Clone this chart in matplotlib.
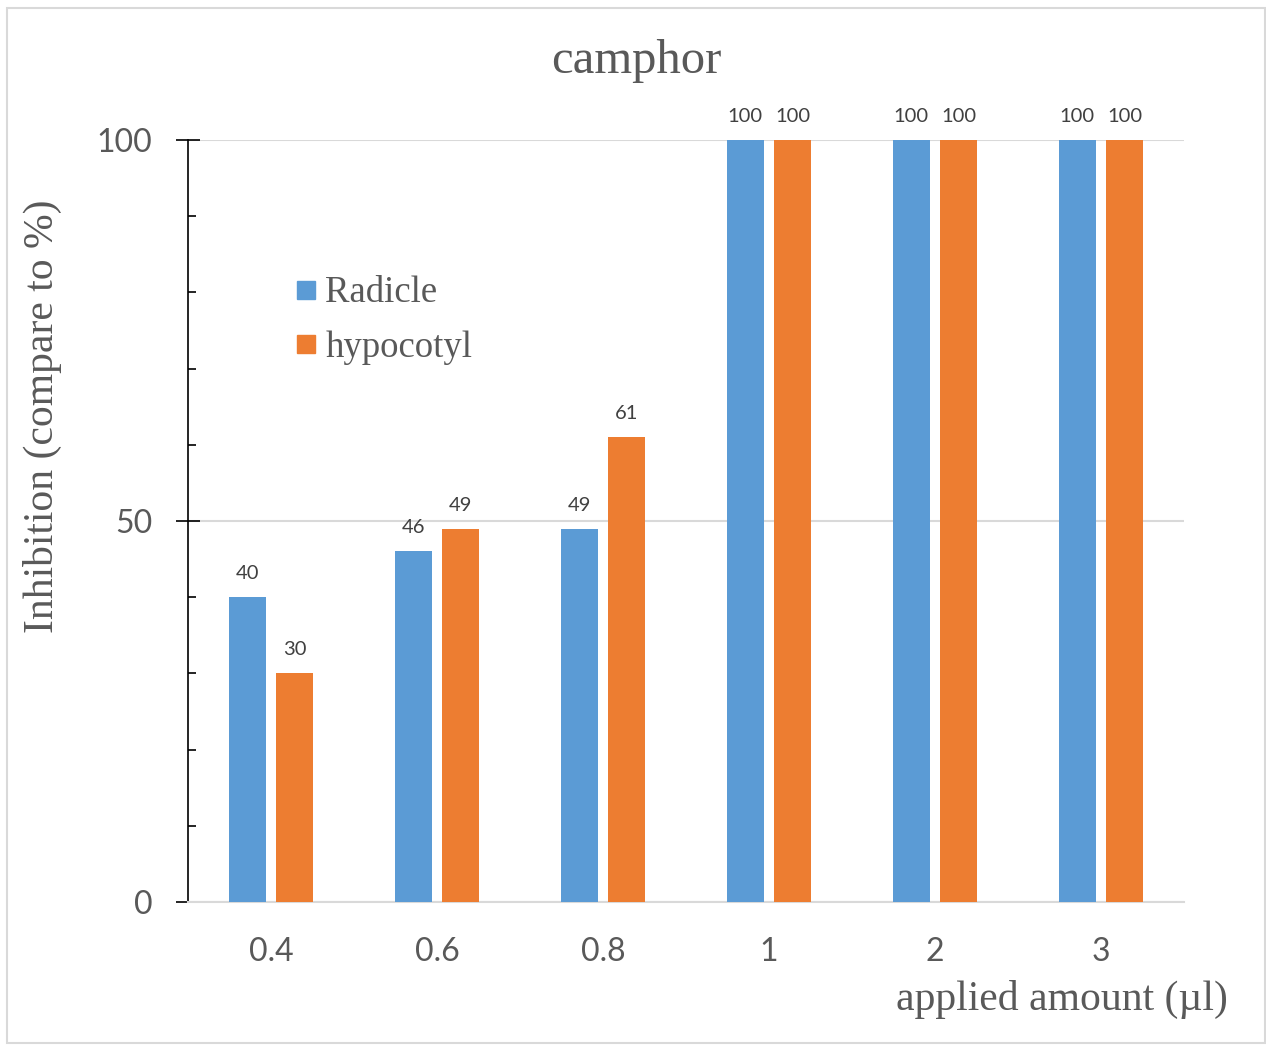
import numpy as np
import matplotlib
matplotlib.use('Agg')
import matplotlib.pyplot as plt
from matplotlib.lines import Line2D
from matplotlib.patches import Rectangle
from matplotlib.ticker import MultipleLocator

amounts = ['0.4', '0.6', '0.8', '1', '2', '3']
radicle = [40, 46, 49, 100, 100, 100]
hypocotyl = [30, 49, 61, 100, 100, 100]

blue = '#5B9BD5'
orange = '#ED7D31'
grey_text = '#595959'
grid_col = '#D9D9D9'
sans = 'Lato'
serif = 'Liberation Serif'

W, H = 1266, 1045
fig = plt.figure(figsize=(W / 100, H / 100), dpi=100)
ax = fig.add_axes([188 / W, 1 - 902 / H, (1184 - 188) / W, (902 - 140) / H])

x = np.arange(len(amounts))
bw = 0.223
off = 0.143
b1 = ax.bar(x - off, radicle, bw, color=blue, zorder=3)
b2 = ax.bar(x + off, hypocotyl, bw, color=orange, zorder=3)

# value labels above each bar
for bars, vals in ((b1, radicle), (b2, hypocotyl)):
    for rect, v in zip(bars, vals):
        ax.annotate(str(v), (rect.get_x() + rect.get_width() / 2, v),
                    xytext=(0, 17), textcoords='offset points',
                    ha='center', va='center', fontsize=14.5,
                    family=sans, color='#404040', annotation_clip=False)

ax.set_xlim(-0.5, len(amounts) - 0.5)
ax.set_ylim(0, 100)
ax.set_xticks(x)
ax.set_xticklabels(amounts, family=sans, fontsize=23, color=grey_text)
ax.tick_params(axis='x', length=0, pad=25)

ax.yaxis.set_major_locator(MultipleLocator(50))
ax.yaxis.set_minor_locator(MultipleLocator(10))
ax.tick_params(axis='y', which='major', direction='inout', length=17,
               width=1.2, color='black', pad=17, labelsize=23,
               labelcolor=grey_text)
ax.tick_params(axis='y', which='minor', direction='in', length=6,
               width=1.2, color='black')
for lab in ax.get_yticklabels():
    lab.set_family(sans)

ax.grid(axis='y', which='major', color=grid_col, linewidth=1.5, zorder=0)
ax.set_axisbelow(True)
for s in ('top', 'right'):
    ax.spines[s].set_visible(False)
ax.spines['left'].set_color('black')
ax.spines['left'].set_linewidth(1.2)
ax.spines['bottom'].set_color(grid_col)
ax.spines['bottom'].set_linewidth(1.5)

handles = [Line2D([], [], marker='s', linestyle='none', markersize=13,
                  markerfacecolor=blue, markeredgecolor=blue),
           Line2D([], [], marker='s', linestyle='none', markersize=13,
                  markerfacecolor=orange, markeredgecolor=orange)]
fig.legend(handles, ['Radicle', 'hypocotyl'], loc='upper left',
           bbox_to_anchor=(296 / W, 1 - 276 / H), frameon=False,
           prop={'family': serif, 'size': 26.5}, labelcolor=grey_text,
           handlelength=0.55, handletextpad=0.25, borderpad=0,
           borderaxespad=0, labelspacing=0.55)

fig.text(636 / W, 1 - 61 / H, 'camphor', ha='center', va='center',
         family=serif, fontsize=35, color=grey_text)
fig.text(42 / W, 1 - 416 / H, 'Inhibition (compare to %)', rotation=90,
         ha='center', va='center', family=serif, fontsize=30,
         color=grey_text)
fig.text(1228 / W, 1 - 999 / H, 'applied amount (\u00b5l)', ha='right',
         va='center', family=serif, fontsize=30, color=grey_text)

# outer chart border
fig.patches.append(Rectangle((7 / W, 2 / H), 1258 / W, 1 - 10 / H,
                             transform=fig.transFigure, fill=False,
                             edgecolor=grid_col, linewidth=1.5))

fig.savefig('out.png', dpi=100)
